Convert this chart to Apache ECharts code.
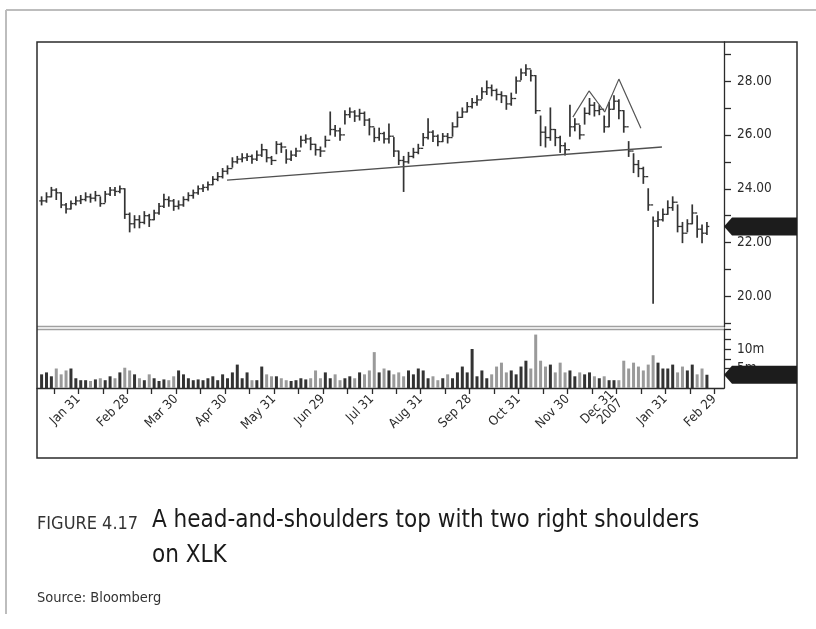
<!DOCTYPE html>
<html>
<head>
<meta charset="utf-8">
<script src="https://cdn.jsdelivr.net/npm/echarts@6/dist/echarts.min.js"></script>
<style>
  html, body { margin: 0; padding: 0; background: #fff; }
  #chart { width: 816px; height: 629px; }
</style>
</head>
<body>
<div id="chart"></div>
<script>
// month-end tick labels (10 bar slots per month, Jan 2007 .. Feb 2008)
const monthLabels = ["Jan 31", "Feb 28", "Mar 30", "Apr 30", "May 31", "Jun 29", "Jul 31",
  "Aug 31", "Sep 28", "Oct 31", "Nov 30", "Dec 31\n2007", "Jan 31", "Feb 29"];
const firstSlot = 2;

// XLK price bars
const high = [
  23.70, 23.85, 24.05, 24.00, 23.85, 23.45, 23.55, 23.70,
  23.75, 23.85, 23.80, 23.90, 23.70, 23.90, 24.05, 24.05, 24.10, 24.00,
  23.10, 23.00, 23.00, 23.15, 23.05, 23.20, 23.45, 23.80, 23.70, 23.60,
  23.55, 23.70, 23.85, 23.95, 24.10, 24.15, 24.25, 24.45, 24.60, 24.75,
  24.85, 25.15, 25.20, 25.30, 25.30, 25.25, 25.40, 25.65, 25.45, 25.20,
  25.75, 25.70, 25.45, 25.40, 25.50, 25.95, 26.00, 25.90, 25.65, 25.55,
  25.95, 26.85, 26.35, 26.25, 26.90, 27.00, 26.90, 26.95, 26.85, 26.60,
  26.25, 26.25, 26.10, 26.40, 25.90, 25.40, 25.20, 25.35, 25.50, 25.65,
  26.05, 26.60, 26.15, 26.00, 26.05, 26.05, 26.45, 26.85, 27.00, 27.20,
  27.35, 27.45, 27.75, 28.00, 27.85, 27.70, 27.60, 27.45, 27.55, 28.15,
  28.45, 28.60, 28.40, 28.20, 26.70, 26.30, 27.00, 26.20, 25.95, 25.70,
  27.10, 26.60, 26.35, 27.00, 27.35, 27.20, 27.10, 26.70, 27.20, 27.45,
  27.30, 26.90, 25.75, 25.30, 25.05, 24.80, 24.00, 22.95, 23.15, 23.25,
  23.55, 23.70, 23.40, 22.75, 22.85, 23.40, 23.00, 22.65, 22.75
];
const low = [
  23.40, 23.50, 23.70, 23.60, 23.30, 23.10, 23.25, 23.40,
  23.45, 23.55, 23.50, 23.55, 23.35, 23.50, 23.75, 23.75, 23.85, 22.90,
  22.40, 22.55, 22.55, 22.70, 22.60, 22.85, 23.05, 23.30, 23.35, 23.20,
  23.25, 23.35, 23.55, 23.65, 23.80, 23.90, 23.95, 24.15, 24.30, 24.40,
  24.55, 24.80, 24.95, 25.00, 25.05, 24.95, 25.05, 25.20, 25.00, 24.90,
  25.30, 25.35, 24.95, 25.05, 25.20, 25.55, 25.70, 25.45, 25.25, 25.20,
  25.55, 26.00, 25.95, 25.80, 26.40, 26.65, 26.50, 26.55, 26.35, 26.00,
  25.75, 25.80, 25.70, 25.70, 25.20, 24.90, 23.90, 24.95, 25.15, 25.30,
  25.60, 25.85, 25.75, 25.60, 25.75, 25.70, 25.95, 26.30, 26.65, 26.85,
  27.00, 27.10, 27.35, 27.50, 27.45, 27.30, 27.20, 26.95, 27.10, 27.55,
  28.05, 28.20, 28.00, 26.80, 25.60, 25.55, 25.80, 25.60, 25.35, 25.25,
  25.95, 26.15, 25.85, 26.40, 26.75, 26.70, 26.75, 26.10, 26.30, 26.95,
  26.60, 26.10, 25.20, 24.60, 24.45, 24.20, 23.20, 19.75, 22.60, 22.80,
  23.05, 23.20, 22.40, 22.00, 22.40, 22.70, 22.20, 22.00, 22.30
];
const close = [
  23.55, 23.70, 23.95, 23.85, 23.40, 23.25, 23.45, 23.55,
  23.60, 23.70, 23.65, 23.75, 23.45, 23.80, 23.95, 23.90, 24.00, 23.05,
  22.70, 22.85, 22.75, 23.00, 22.85, 23.10, 23.35, 23.60, 23.55, 23.35,
  23.40, 23.60, 23.75, 23.85, 24.00, 24.05, 24.15, 24.35, 24.45, 24.65,
  24.75, 25.00, 25.10, 25.15, 25.20, 25.10, 25.25, 25.45, 25.15, 25.05,
  25.65, 25.55, 25.10, 25.25, 25.40, 25.80, 25.85, 25.65, 25.45, 25.40,
  25.80, 26.20, 26.15, 26.00, 26.75, 26.85, 26.70, 26.80, 26.55, 26.30,
  25.90, 26.05, 25.85, 25.95, 25.40, 25.05, 25.00, 25.20, 25.35, 25.50,
  25.90, 26.10, 25.95, 25.75, 25.95, 25.90, 26.30, 26.65, 26.85, 27.05,
  27.20, 27.30, 27.60, 27.75, 27.65, 27.50, 27.45, 27.15, 27.35, 28.00,
  28.30, 28.45, 28.20, 26.90, 26.10, 25.90, 26.20, 25.90, 25.60, 25.45,
  26.30, 26.40, 26.00, 26.80, 27.10, 26.90, 26.95, 26.30, 26.95, 27.25,
  26.90, 26.30, 25.40, 24.90, 24.75, 24.45, 23.40, 22.80, 22.85, 23.05,
  23.30, 23.50, 22.60, 22.35, 22.70, 23.10, 22.50, 22.35, 22.60
];
// volume, millions of shares
const volume = [
  3.5, 4.0, 3.0, 5.0, 3.5, 4.5, 5.0, 2.5,
  2.0, 2.0, 1.8, 2.2, 2.5, 2.0, 3.0, 2.5, 4.0, 5.2,
  4.5, 3.5, 2.5, 2.0, 3.5, 2.5, 1.8, 2.2, 2.0, 3.0,
  4.5, 3.5, 2.5, 2.0, 2.2, 2.0, 2.5, 3.0, 2.0, 3.5,
  2.5, 4.0, 6.0, 2.5, 4.0, 2.0, 2.0, 5.5, 3.5, 3.0,
  3.0, 2.5, 2.0, 1.8, 2.0, 2.5, 2.2, 2.5, 4.5, 2.5,
  4.0, 2.5, 3.5, 2.0, 2.5, 3.0, 2.5, 4.0, 3.5, 4.5,
  9.2, 4.0, 5.0, 4.5, 3.5, 4.0, 3.0, 4.5, 3.5, 5.0,
  4.5, 2.5, 3.0, 2.0, 2.5, 3.5, 2.5, 4.0, 5.5, 4.0,
  10.0, 3.0, 4.5, 2.5, 3.5, 5.5, 6.5, 4.0, 4.5, 3.5,
  5.5, 7.0, 5.0, 13.7, 7.0, 5.5, 6.0, 4.0, 6.5, 4.0,
  4.5, 3.0, 4.0, 3.5, 4.0, 3.0, 2.5, 3.0, 2.0, 2.0,
  2.0, 7.0, 5.0, 6.5, 5.5, 4.5, 6.0, 8.4, 6.5, 5.0,
  5.0, 6.0, 4.0, 5.5, 4.5, 6.0, 3.5, 5.0, 3.4
];
// trend lines drawn on the chart: [bar slot, price]
const neckline = [[39.9, 24.32], [128.8, 25.55]];
const shoulderLines = [[110.6, 26.66], [113.9, 27.63], [117.1, 26.85], [120.0, 28.07], [124.5, 26.25]];

const priceTicks = [19, 20, 21, 22, 23, 24, 25, 26, 27, 28, 29];
const priceLabels = [20, 22, 24, 26, 28];
const volTicks = [5, 7.5, 10, 12.5, 15];
const volLabels = [5, 10];

const FONT = "'Liberation Sans Narrow', 'Arial Narrow', 'DejaVu Sans Condensed', sans-serif";
const INK = "#2b2b2b";

const xMin = 1.06, xMax = 141.49;
const monthTicks = [], halfTicks = [];
monthLabels.forEach((_, m) => {
  monthTicks.push(10 * m + 9.5);
  halfTicks.push(10 * m + 4.5, 10 * m + 9.5);
});

const chart = echarts.init(document.getElementById("chart"));

// [slot, high, low, close, previous close]
const barData = close.map((c, i) => [firstSlot + i, high[i], low[i], c, i > 0 ? close[i - 1] : c]);
const volData = volume.map((v, i) => [firstSlot + i, v]);

const option = {
  animation: false,
  backgroundColor: "#fff",
  grid: [
    { left: 37, top: 42, width: 687, height: 285 },
    { left: 37, top: 329, width: 687, height: 59 }
  ],
  xAxis: [
    {
      type: "value", gridIndex: 0, min: xMin, max: xMax,
      axisLine: { show: false }, axisTick: { show: false },
      axisLabel: { show: false }, splitLine: { show: false }
    },
    {
      type: "value", gridIndex: 1, min: xMin, max: xMax,
      axisLine: { show: true, lineStyle: { color: INK, width: 1.3 } },
      axisTick: { show: true, customValues: halfTicks, length: 6, lineStyle: { color: INK, width: 1.3 } },
      axisLabel: {
        show: true, customValues: monthTicks, rotate: 45, margin: 9,
        fontFamily: FONT, fontSize: 13, color: INK, lineHeight: 12,
        formatter: v => monthLabels[Math.round((v - 9.5) / 10)]
      },
      splitLine: { show: false }
    }
  ],
  yAxis: [
    {
      type: "value", gridIndex: 0, position: "right", min: 18.868, max: 29.448,
      axisLine: { show: true, lineStyle: { color: INK, width: 1.3 } },
      axisTick: { show: true, customValues: priceTicks, length: 7, lineStyle: { color: INK, width: 1.3 } },
      axisLabel: {
        show: true, customValues: priceLabels, margin: 13,
        fontFamily: FONT, fontSize: 13.5, color: INK,
        formatter: v => v.toFixed(2)
      },
      splitLine: { show: false }
    },
    {
      type: "value", gridIndex: 1, position: "right", min: 0, max: 15.13,
      axisLine: { show: true, lineStyle: { color: INK, width: 1.3 } },
      axisTick: { show: true, customValues: volTicks, length: 7, lineStyle: { color: INK, width: 1.3 } },
      axisLabel: {
        show: true, customValues: volLabels, margin: 13,
        fontFamily: FONT, fontSize: 13.5, color: INK,
        formatter: v => v + "m"
      },
      splitLine: { show: false }
    }
  ],
  series: [
    {
      name: "XLK",
      type: "custom",
      xAxisIndex: 0, yAxisIndex: 0,
      clip: true,
      data: barData,
      renderItem: (params, api) => {
        const x = api.value(0);
        const hi = api.coord([x, api.value(1)]);
        const lo = api.coord([x, api.value(2)]);
        const cl = api.coord([x, api.value(3)]);
        const op = api.coord([x, api.value(4)]);
        const stroke = "#333";
        return {
          type: "group",
          children: [
            { type: "line", shape: { x1: hi[0], y1: hi[1] - 0.5, x2: lo[0], y2: lo[1] + 0.5 },
              style: { stroke: stroke, lineWidth: 1.7 } },
            { type: "line", shape: { x1: op[0] - 2.4, y1: op[1], x2: op[0], y2: op[1] },
              style: { stroke: stroke, lineWidth: 1.3 } },
            { type: "line", shape: { x1: cl[0], y1: cl[1], x2: cl[0] + 2.4, y2: cl[1] },
              style: { stroke: stroke, lineWidth: 1.3 } }
          ]
        };
      }
    },
    {
      name: "neckline",
      type: "line",
      xAxisIndex: 0, yAxisIndex: 0,
      data: neckline,
      symbol: "none",
      lineStyle: { color: "#505050", width: 1.4 }
    },
    {
      name: "shoulders",
      type: "line",
      xAxisIndex: 0, yAxisIndex: 0,
      data: shoulderLines,
      symbol: "none",
      lineStyle: { color: "#555", width: 1.2 }
    },
    {
      name: "Volume",
      type: "bar",
      xAxisIndex: 1, yAxisIndex: 1,
      data: volData,
      barWidth: 3,
      itemStyle: {
        color: p => (p.dataIndex > 0 && close[p.dataIndex] < close[p.dataIndex - 1]) ? "#9a9a9a" : "#333"
      }
    }
  ],
  graphic: [
    // page frame
    { type: "line", shape: { x1: 6, y1: 10, x2: 816, y2: 10 }, style: { stroke: "#bdbdbd", lineWidth: 2 } },
    { type: "line", shape: { x1: 6, y1: 10, x2: 6, y2: 614 }, style: { stroke: "#bdbdbd", lineWidth: 2 } },
    // chart box
    { type: "rect", shape: { x: 37, y: 42, width: 760, height: 416 },
      style: { fill: null, stroke: INK, lineWidth: 1.5 }, z: 10 },
    // separator between price and volume panels
    { type: "line", shape: { x1: 37, y1: 326.5, x2: 724, y2: 326.5 }, style: { stroke: "#a0a0a0", lineWidth: 1.5 } },
    { type: "line", shape: { x1: 37, y1: 329.5, x2: 724, y2: 329.5 }, style: { stroke: "#a0a0a0", lineWidth: 1.5 } },
    // caption
    { type: "text", style: { x: 37, y: 524, text: "FIGURE 4.17", font: "18px " + FONT, fill: "#333", verticalAlign: "middle" } },
    { type: "text", style: { x: 152, y: 521, text: "A head-and-shoulders top with two right shoulders", font: "24px " + FONT, fill: "#1a1a1a", verticalAlign: "middle" } },
    { type: "text", style: { x: 152, y: 556, text: "on XLK", font: "24px " + FONT, fill: "#1a1a1a", verticalAlign: "middle" } },
    { type: "text", style: { x: 37, y: 598, text: "Source: Bloomberg", font: "14.5px " + FONT, fill: "#333", verticalAlign: "middle" } }
  ]
};

chart.setOption(option);

// last-value markers on the right scale, positioned through the axes
function arrowAt(id, y) {
  return {
    id: id, type: "polygon", z: 20,
    shape: { points: [[724, y], [732, y - 9], [797, y - 9], [797, y + 9], [732, y + 9]] },
    style: { fill: "#1c1c1c" }
  };
}
const yPrice = chart.convertToPixel({ yAxisIndex: 0 }, close[close.length - 1]);
const yVol = chart.convertToPixel({ yAxisIndex: 1 }, volume[volume.length - 1]);
const g = option.graphic.slice();
g.push(arrowAt("priceArrow", yPrice), arrowAt("volArrow", yVol));
chart.setOption({ graphic: g });
</script>
</body>
</html>
